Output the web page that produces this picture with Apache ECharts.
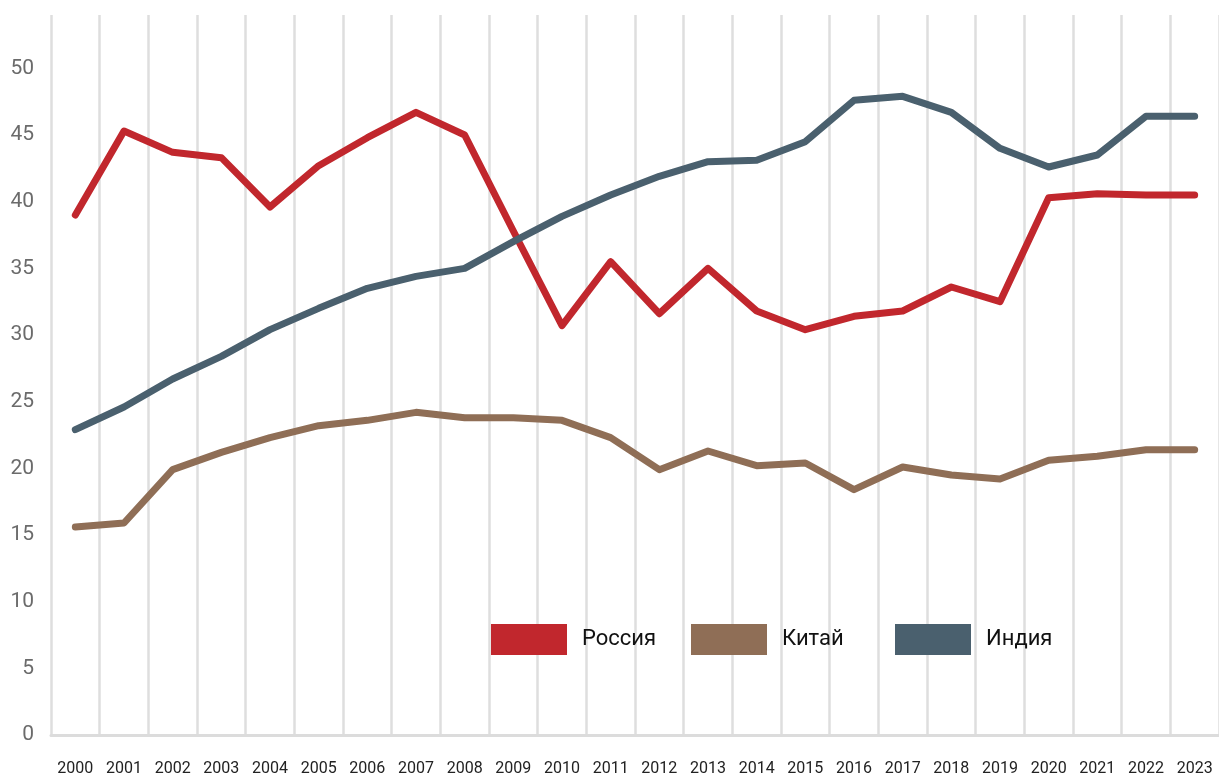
<!DOCTYPE html>
<html>
<head>
<meta charset="utf-8">
<script src="https://cdn.jsdelivr.net/npm/echarts@6/dist/echarts.min.js"></script>
<style>
  html, body { margin: 0; padding: 0; background: #fff; }
  #chart { width: 1219px; height: 778px; }
</style>
</head>
<body>
<div id="chart"></div>
<script>
// годы
var years = ['2000','2001','2002','2003','2004','2005','2006','2007','2008','2009','2010','2011',
             '2012','2013','2014','2015','2016','2017','2018','2019','2020','2021','2022','2023'];

// значения рядов
var russia = [39.0, 45.3, 43.7, 43.3, 39.6, 42.7, 44.8, 46.7, 45.0, 37.8, 30.7, 35.5,
              31.6, 35.0, 31.8, 30.4, 31.4, 31.8, 33.6, 32.5, 40.3, 40.6, 40.5, 40.5];
var china  = [15.6, 15.9, 19.9, 21.2, 22.3, 23.2, 23.6, 24.2, 23.8, 23.8, 23.6, 22.3,
              19.9, 21.3, 20.2, 20.4, 18.4, 20.1, 19.5, 19.2, 20.6, 20.9, 21.4, 21.4];
var india  = [22.9, 24.6, 26.7, 28.4, 30.4, 32.0, 33.5, 34.4, 35.0, 37.0, 38.9, 40.5,
              41.9, 43.0, 43.1, 44.5, 47.6, 47.9, 46.7, 44.0, 42.6, 43.5, 46.4, 46.4];

var names = ['Россия', 'Китай', 'Индия'];
var colors = ['#c1272d', '#8f6e56', '#4a606e'];

function legendItem(name, left) {
    return {
        data: [name],
        left: left,
        top: 624,
        padding: 0,
        icon: 'rect',
        itemWidth: 76,
        itemHeight: 31,
        selectedMode: false,
        textStyle: {
            fontFamily: 'Roboto',
            fontSize: 22,
            color: '#111',
            padding: [0, 0, 0, 10]
        }
    };
}

function lineSeries(name, data, color) {
    return {
        name: name,
        type: 'line',
        data: data,
        symbol: 'none',
        color: color,
        lineStyle: { width: 7, color: color, cap: 'round', join: 'round' }
    };
}

var option = {
    animation: false,
    grid: { left: 51, right: 0, top: 15, bottom: 43 },
    legend: [
        legendItem('Россия', 491),
        legendItem('Китай', 691),
        legendItem('Индия', 895)
    ],
    xAxis: {
        type: 'category',
        data: years,
        boundaryGap: true,
        axisLine: { show: true, lineStyle: { color: '#dcdcdc', width: 3 } },
        axisTick: { show: false },
        axisLabel: {
            interval: 0,
            margin: 26,
            fontFamily: 'Roboto',
            fontSize: 16,
            color: '#222'
        },
        splitLine: { show: true, interval: 0, lineStyle: { color: '#dedede', width: 2.5 } }
    },
    yAxis: {
        type: 'value',
        min: 0,
        max: 54,
        interval: 5,
        axisLine: { show: false },
        axisTick: { show: false },
        splitLine: { show: false },
        axisLabel: {
            showMaxLabel: false,
            margin: 17,
            fontFamily: 'Roboto',
            fontSize: 21,
            color: '#6b6b6b',
            padding: [4, 0, 0, 0]
        }
    },
    series: [
        lineSeries('Россия', russia, colors[0]),
        lineSeries('Китай', china, colors[1]),
        lineSeries('Индия', india, colors[2])
    ]
};

var chart = echarts.init(document.getElementById('chart'));
chart.setOption(option);
</script>
</body>
</html>
